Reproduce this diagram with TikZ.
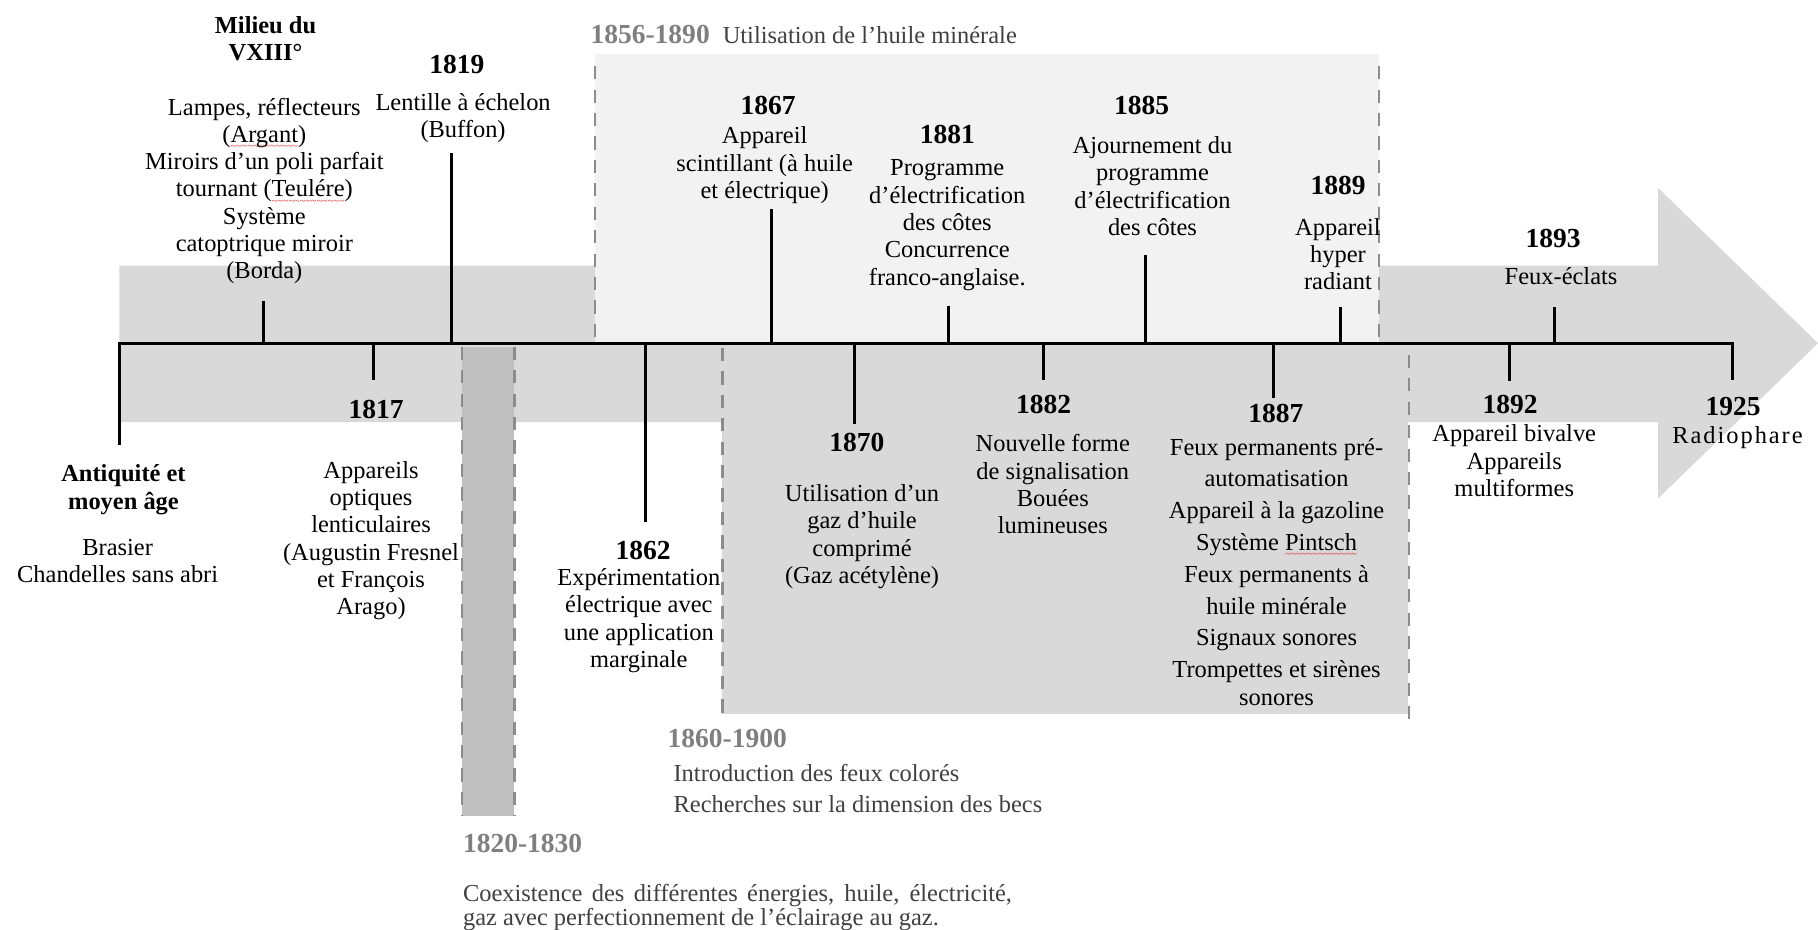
\documentclass[tikz,border=0pt]{standalone}
\usepackage{fontspec}
\setmainfont{Liberation Serif}
\usetikzlibrary{positioning}
\definecolor{Dark}{HTML}{000000}
\definecolor{Body}{HTML}{D9D9D9}
\definecolor{Pale}{HTML}{F2F2F2}
\definecolor{Band}{HTML}{BFBFBF}
\definecolor{Dash}{HTML}{8C8C8C}
\definecolor{Period}{HTML}{7F7F7F}
\definecolor{Note}{HTML}{404040}
\definecolor{Spell}{HTML}{E02020}
\newcommand{\evtfont}{\fontsize{12}{13.4}\selectfont}
\newcommand{\yearfont}{\fontsize{13.5}{15}\selectfont\bfseries}
\newcommand{\spellmark}[1]{{\setbox0\hbox{#1}\rlap{\raisebox{-3.6pt}{\textcolor{Spell}{\hbox to \wd0{\xleaders\hbox{\fontsize{5}{5}\selectfont\char"7E}\hfill}}}}\box0}}
\tikzset{
    yearnode/.style={font=\yearfont, text=Dark, inner sep=0pt},
    headnode/.style={font=\evtfont\bfseries, text=Dark, align=center, anchor=north, inner sep=0pt},
    eventnode/.style={font=\evtfont, text=Dark, align=center, anchor=north, inner sep=0pt},
    periodnode/.style={font=\yearfont, text=Period, anchor=west, inner sep=0pt},
    notenode/.style={font=\evtfont, text=Note, inner sep=0pt},
    axis/.style={line width=1.5pt, color=Dark, line join=miter},
    tick/.style={line width=1.5pt, color=Dark},
    limit/.style={line width=1.2pt, color=Dash, dash pattern=on 6.5pt off 5pt},
}

\begin{document}
\begin{tikzpicture}[x=0.2mm, y=-0.2mm]
\useasboundingbox (0,0) rectangle (1568,802);

% --- fond : fleche et periodes
\fill[Body] (103,229) -- (1430,229) -- (1430,162) -- (1568,296) -- (1430,430) -- (1430,364) -- (103,364) -- cycle;
\fill[Pale] (513,47) rectangle (1189.5,296);
\fill[Body] (623,296) rectangle (1214,616);
\fill[Band] (398.5,299) rectangle (443.6,704);

% limites des periodes
\draw[limit] (513,57) -- (513,296);
\draw[limit] (1189.5,57) -- (1189.5,296);
\draw[limit] (623,300) -- (623,615);
\draw[limit] (1215,306) -- (1215,620);
\draw[limit] (398.5,299) -- (398.5,704);
\draw[limit] (443.6,299) -- (443.6,704);

% --- axe du temps
\coordinate (anti) at (103,296);
\coordinate (antiend) at (103,384);
\coordinate (fin) at (1494,296);
\coordinate (finend) at (1494,328);
\draw[axis] (antiend) -- (anti) -- (fin) -- (finend);

% graduations
\foreach \n/\x/\y in {mil/227/260, 1817/322/328, 1819/389.5/132, 1862/557/450, 1867/665/180.5,
    1870/736.6/366, 1881/818/264, 1882/900/328, 1885/987.6/220, 1887/1098.4/343.5,
    1889/1156/265, 1892/1302/329, 1893/1341/265}{
    \coordinate (a\n) at (\x,296);
    \coordinate (b\n) at (\x,\y);
    \draw[tick] (a\n) -- (b\n);
}

% --- evenements
\node[headnode] (hanti) at (106.5,400.5) {Antiquité et\\moyen âge};
\node[eventnode] (danti) at (101.5,464.5) {Brasier\\Chandelles sans abri};

\node[headnode] (hmil) at (229,14) {Milieu du\\VXIII°};
\node[eventnode] (dmil) at (228,84) {Lampes, réflecteurs\\(\spellmark{Argant})\\Miroirs d’un poli parfait\\tournant (\spellmark{Teulére})\\Système\\catoptrique miroir\\(Borda)};

\node[yearnode] (y1817) at (324.5,353) {1817};
\node[eventnode] (d1817) at (320,397.5) {Appareils\\optiques\\lenticulaires\\(Augustin Fresnel\\et François\\Arago)};

\node[yearnode] (y1819) at (394,56) {1819};
\node[eventnode] (d1819) at (399.4,80.2) {Lentille à échelon\\(Buffon)};

\node[yearnode] (y1862) at (554.6,474.4) {1862};
\node[eventnode] (d1862) at (551,490) {Expérimentation\\électrique avec\\une application\\marginale};

\node[yearnode] (y1867) at (662.4,90.6) {1867};
\node[eventnode] (d1867) at (659.5,109) {Appareil\\scintillant (à huile\\et électrique)};

\node[yearnode] (y1870) at (739,381.5) {1870};
\node[eventnode] (d1870) at (743.5,417.5) {Utilisation d’un\\gaz d’huile\\comprimé\\(Gaz acétylène)};

\node[yearnode] (y1881) at (817,116.4) {1881};
\node[eventnode] (d1881) at (817,137.5) {Programme\\d’électrification\\des côtes\\Concurrence\\franco-anglaise.};

\node[yearnode] (y1882) at (900,349) {1882};
\node[eventnode] (d1882) at (908,374.5) {Nouvelle forme\\de signalisation\\Bouées\\lumineuses};

\node[yearnode] (y1885) at (984.6,90.6) {1885};
\node[eventnode] (d1885) at (994,117.5) {Ajournement du\\programme\\d’électrification\\des côtes};

\node[yearnode] (y1887) at (1100.4,357) {1887};
\node[eventnode, font=\fontsize{12}{15.6}\selectfont] (d1887) at (1101,377.5) {Feux permanents pré-\\automatisation\\Appareil à la gazoline\\Système \spellmark{Pintsch}\\Feux permanents à\\huile minérale\\Signaux sonores\\Trompettes et sirènes\\[-2pt]sonores};

\node[yearnode] (y1889) at (1154,159.6) {1889};
\node[eventnode] (d1889) at (1154,188) {Appareil\\hyper\\radiant};

\node[yearnode] (y1892) at (1302.4,349) {1892};
\node[eventnode] (d1892) at (1306,366) {Appareil bivalve\\Appareils\\multiformes};

\node[yearnode] (y1893) at (1339.5,205.6) {1893};
\node[eventnode] (d1893) at (1346.4,230.5) {Feux-éclats};

\node[yearnode] (y1925) at (1494.8,350.8) {1925};
\node[eventnode] (d1925) at (1498.6,367.5) {\addfontfeatures{LetterSpace=8}Radiophare};

% --- periodes
\node[periodnode] (p1856) at (509,30) {1856-1890};
\node[notenode, anchor=base west] (huile) at ([xshift=6pt]p1856.base east) {Utilisation de l’huile minérale};

\node[periodnode] (p1860) at (575.5,636.8) {1860-1900};
\node[notenode, anchor=north west, align=left, font=\fontsize{12}{15}\selectfont] (feux) at (580.6,659) {Introduction des feux colorés\\Recherches sur la dimension des becs};

\node[periodnode] (p1820) at (399,727.3) {1820-1830};
\node[notenode, anchor=north west, text width=94.7mm, align=justify, font=\fontsize{12}{11.8}\selectfont] (coex) at (399,762.5) {Coexistence des différentes énergies, huile, électricité,\linebreak gaz avec perfectionnement de l’éclairage au gaz.};

\end{tikzpicture}
\end{document}
